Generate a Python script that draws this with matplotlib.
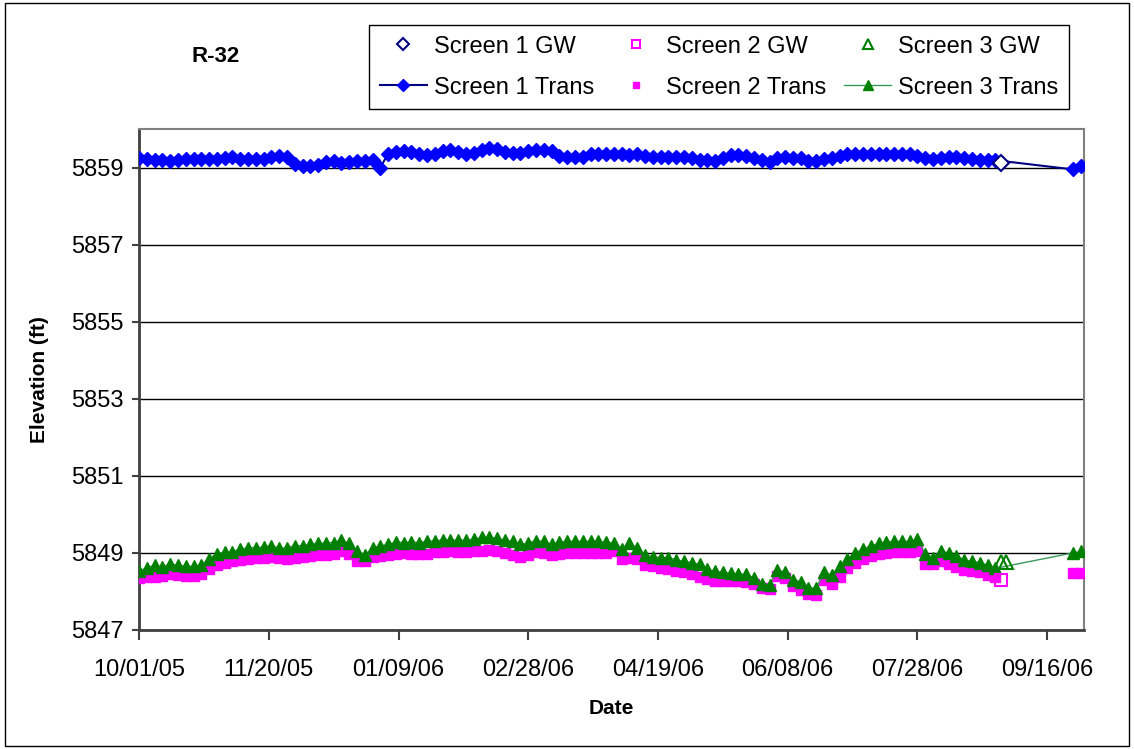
import matplotlib.pyplot as plt
import matplotlib.dates as mdates
from matplotlib.lines import Line2D
from matplotlib.patches import Rectangle
import pandas as pd

plt.rcParams['font.family'] = ['Liberation Sans', 'DejaVu Sans']

# transducer readings, every 3 days from 10/01/05 to 08/27/06
trans_dates = pd.date_range('2005-10-01', periods=111, freq='3D')
# readings after the data gap
tail_dates = pd.to_datetime(['2006-09-26', '2006-09-29', '2006-10-02'])

screen1_trans = [
    5859.24, 5859.22, 5859.20, 5859.19, 5859.16, 5859.20, 5859.22, 5859.22, 5859.21, 5859.22,
    5859.22, 5859.25, 5859.26, 5859.22, 5859.21, 5859.22, 5859.22, 5859.27, 5859.29, 5859.26,
    5859.08, 5859.05, 5859.05, 5859.07, 5859.14, 5859.16, 5859.13, 5859.14, 5859.18, 5859.18,
    5859.20, 5859.00, 5859.36, 5859.40, 5859.42, 5859.40, 5859.36, 5859.33, 5859.36, 5859.44,
    5859.46, 5859.40, 5859.35, 5859.37, 5859.45, 5859.50, 5859.48, 5859.40, 5859.37, 5859.38,
    5859.44, 5859.46, 5859.46, 5859.42, 5859.30, 5859.27, 5859.28, 5859.26, 5859.34, 5859.36,
    5859.36, 5859.35, 5859.36, 5859.33, 5859.35, 5859.30, 5859.27, 5859.27, 5859.26, 5859.27,
    5859.26, 5859.24, 5859.20, 5859.20, 5859.16, 5859.25, 5859.32, 5859.33, 5859.30, 5859.24,
    5859.20, 5859.14, 5859.24, 5859.26, 5859.25, 5859.25, 5859.18, 5859.16, 5859.22, 5859.25,
    5859.30, 5859.34, 5859.35, 5859.35, 5859.35, 5859.35, 5859.35, 5859.35, 5859.35, 5859.34,
    5859.30, 5859.24, 5859.22, 5859.24, 5859.26, 5859.28, 5859.24, 5859.21, 5859.20, 5859.20,
    5859.19,
]
screen1_tail = [5858.95, 5859.05, 5859.06]

screen2_trans = [
    5848.35, 5848.37, 5848.38, 5848.40, 5848.46, 5848.42, 5848.40, 5848.40, 5848.45, 5848.58,
    5848.68, 5848.75, 5848.80, 5848.82, 5848.84, 5848.86, 5848.88, 5848.90, 5848.88, 5848.85,
    5848.86, 5848.90, 5848.93, 5848.95, 5848.95, 5848.96, 5849.05, 5848.98, 5848.78, 5848.80,
    5848.90, 5848.92, 5848.95, 5848.98, 5849.00, 5848.98, 5848.97, 5848.98, 5849.02, 5849.03,
    5849.04, 5849.03, 5849.03, 5849.04, 5849.05, 5849.08, 5849.06, 5849.00, 5848.95, 5848.90,
    5848.95, 5849.03, 5849.00, 5848.95, 5848.97, 5849.00, 5849.00, 5849.00, 5849.00, 5849.00,
    5849.00, 5849.05, 5848.83, 5848.86, 5848.85, 5848.68, 5848.65, 5848.62, 5848.58, 5848.53,
    5848.50, 5848.45, 5848.38, 5848.32, 5848.28, 5848.27, 5848.27, 5848.26, 5848.24, 5848.20,
    5848.08, 5848.06, 5848.40, 5848.35, 5848.15, 5848.05, 5847.93, 5847.92, 5848.30, 5848.20,
    5848.38, 5848.62, 5848.75, 5848.85, 5848.92, 5848.98, 5849.00, 5849.02, 5849.02, 5849.02,
    5849.05, 5848.72, 5848.72, 5848.78, 5848.70, 5848.63, 5848.55, 5848.52, 5848.50, 5848.43,
    5848.38,
]
screen2_tail = [5848.48, 5848.47, 5848.48]

screen3_trans = [
    5848.52, 5848.62, 5848.68, 5848.63, 5848.72, 5848.68, 5848.65, 5848.65, 5848.68, 5848.85,
    5848.98, 5849.02, 5849.03, 5849.10, 5849.13, 5849.14, 5849.15, 5849.19, 5849.12, 5849.13,
    5849.19, 5849.18, 5849.22, 5849.25, 5849.26, 5849.27, 5849.33, 5849.25, 5849.05, 5848.95,
    5849.12, 5849.18, 5849.22, 5849.28, 5849.27, 5849.28, 5849.27, 5849.30, 5849.32, 5849.33,
    5849.33, 5849.33, 5849.33, 5849.35, 5849.40, 5849.40, 5849.38, 5849.33, 5849.30, 5849.22,
    5849.25, 5849.32, 5849.30, 5849.22, 5849.28, 5849.30, 5849.30, 5849.30, 5849.30, 5849.30,
    5849.28, 5849.25, 5849.10, 5849.25, 5849.12, 5848.95, 5848.90, 5848.88, 5848.88, 5848.82,
    5848.78, 5848.75, 5848.70, 5848.58, 5848.52, 5848.50, 5848.47, 5848.45, 5848.45, 5848.35,
    5848.20, 5848.17, 5848.55, 5848.50, 5848.30, 5848.25, 5848.10, 5848.08, 5848.50, 5848.43,
    5848.65, 5848.85, 5849.00, 5849.10, 5849.18, 5849.25, 5849.28, 5849.30, 5849.30, 5849.30,
    5849.35, 5848.98, 5848.88, 5849.05, 5849.00, 5848.92, 5848.82, 5848.78, 5848.75, 5848.68,
    5848.60,
]
screen3_tail = [5849.00, 5849.04, 5849.08]

# manual groundwater measurements
gw1_dates = pd.to_datetime(['2006-08-29'])
gw1 = [5859.12]
gw2_dates = pd.to_datetime(['2006-08-29'])
gw2 = [5848.30]
gw3_dates = pd.to_datetime(['2006-08-29', '2006-08-31'])
gw3 = [5848.76, 5848.76]

x_ticks = pd.date_range('2005-10-01', periods=8, freq='50D')
y_ticks = [5847, 5849, 5851, 5853, 5855, 5857, 5859]

all_dates = trans_dates.append(tail_dates)

fig = plt.figure(figsize=(11.34, 7.49), dpi=100)
ax = fig.add_axes([0.1226, 0.1589, 0.8329, 0.6689])

ax.grid(axis='y', color='black', linewidth=1, zorder=0)
ax.set_axisbelow(True)

ax.plot(all_dates, screen1_trans + screen1_tail, color='#000080', lw=1.5,
        marker='D', ms=7, mfc='#0000FF', mec='#0000FF', zorder=3)
ax.plot(all_dates, screen2_trans + screen2_tail, linestyle='none',
        marker='s', ms=6.5, mfc='#FF00FF', mec='#FF00FF', zorder=3)
ax.plot(all_dates, screen3_trans + screen3_tail, color='#3A9A5B', lw=1,
        marker='^', ms=8, mfc='#008000', mec='#008000', zorder=4)

ax.plot(gw1_dates, gw1, linestyle='none', marker='D', ms=8, mfc='white',
        mec='#000080', mew=1.5, zorder=5)
ax.plot(gw2_dates, gw2, linestyle='none', marker='s', ms=8, mfc='none',
        mec='#FF00FF', mew=1.5, zorder=5)
ax.plot(gw3_dates, gw3, linestyle='none', marker='^', ms=10, mfc='none',
        mec='#008000', mew=1.5, zorder=5)

ax.set_xlim(pd.Timestamp('2005-10-01'), pd.Timestamp('2006-09-30'))
ax.set_ylim(5847, 5860)
ax.set_xticks(x_ticks)
ax.xaxis.set_major_formatter(mdates.DateFormatter('%m/%d/%y'))
ax.set_yticks(y_ticks)

ax.tick_params(axis='both', labelsize=17, color='#404040', width=1.5, direction='out')
ax.tick_params(axis='x', length=7, pad=14)
ax.tick_params(axis='y', length=5, pad=6)

for side in ['left', 'bottom']:
    ax.spines[side].set_color('#404040')
    ax.spines[side].set_linewidth(2)
for side in ['top', 'right']:
    ax.spines[side].set_color('#808080')
    ax.spines[side].set_linewidth(1.5)

ax.set_xlabel('Date', fontsize=15, fontweight='bold', labelpad=13)
ax.set_ylabel('Elevation (ft)', fontsize=15, fontweight='bold', labelpad=16)
fig.text(0.19, 0.924, 'R-32', fontsize=16, fontweight='bold', ha='center', va='center')

handles = [
    Line2D([], [], linestyle='none', marker='D', ms=6, mfc='white', mec='#000080', mew=1.5),
    Line2D([], [], color='#000080', lw=1.5, marker='D', ms=6, mfc='#0000FF', mec='#0000FF'),
    Line2D([], [], linestyle='none', marker='s', ms=6, mfc='white', mec='#FF00FF', mew=1.5),
    Line2D([], [], linestyle='none', marker='s', ms=5, mfc='#FF00FF', mec='#FF00FF'),
    Line2D([], [], linestyle='none', marker='^', ms=7, mfc='white', mec='#008000', mew=1.5),
    Line2D([], [], color='#3A9A5B', lw=1, marker='^', ms=7, mfc='#008000', mec='#008000'),
]
labels = ['Screen 1 GW', 'Screen 1 Trans', 'Screen 2 GW', 'Screen 2 Trans',
          'Screen 3 GW', 'Screen 3 Trans']
leg = fig.legend(handles, labels, ncol=3, loc='upper left',
                 bbox_to_anchor=(369 / 1134, 1 - 25 / 749), fontsize=17,
                 frameon=True, fancybox=False, edgecolor='black', framealpha=1,
                 handlelength=2.0, handletextpad=0.3, columnspacing=0.75,
                 labelspacing=0.8, borderpad=0.45, borderaxespad=0)
leg.get_frame().set_linewidth(1)

fig.patches.append(Rectangle((0.004, 0.004), 0.992, 0.992, transform=fig.transFigure,
                             fill=False, edgecolor='black', lw=1))

fig.savefig('out.png', dpi=100)
